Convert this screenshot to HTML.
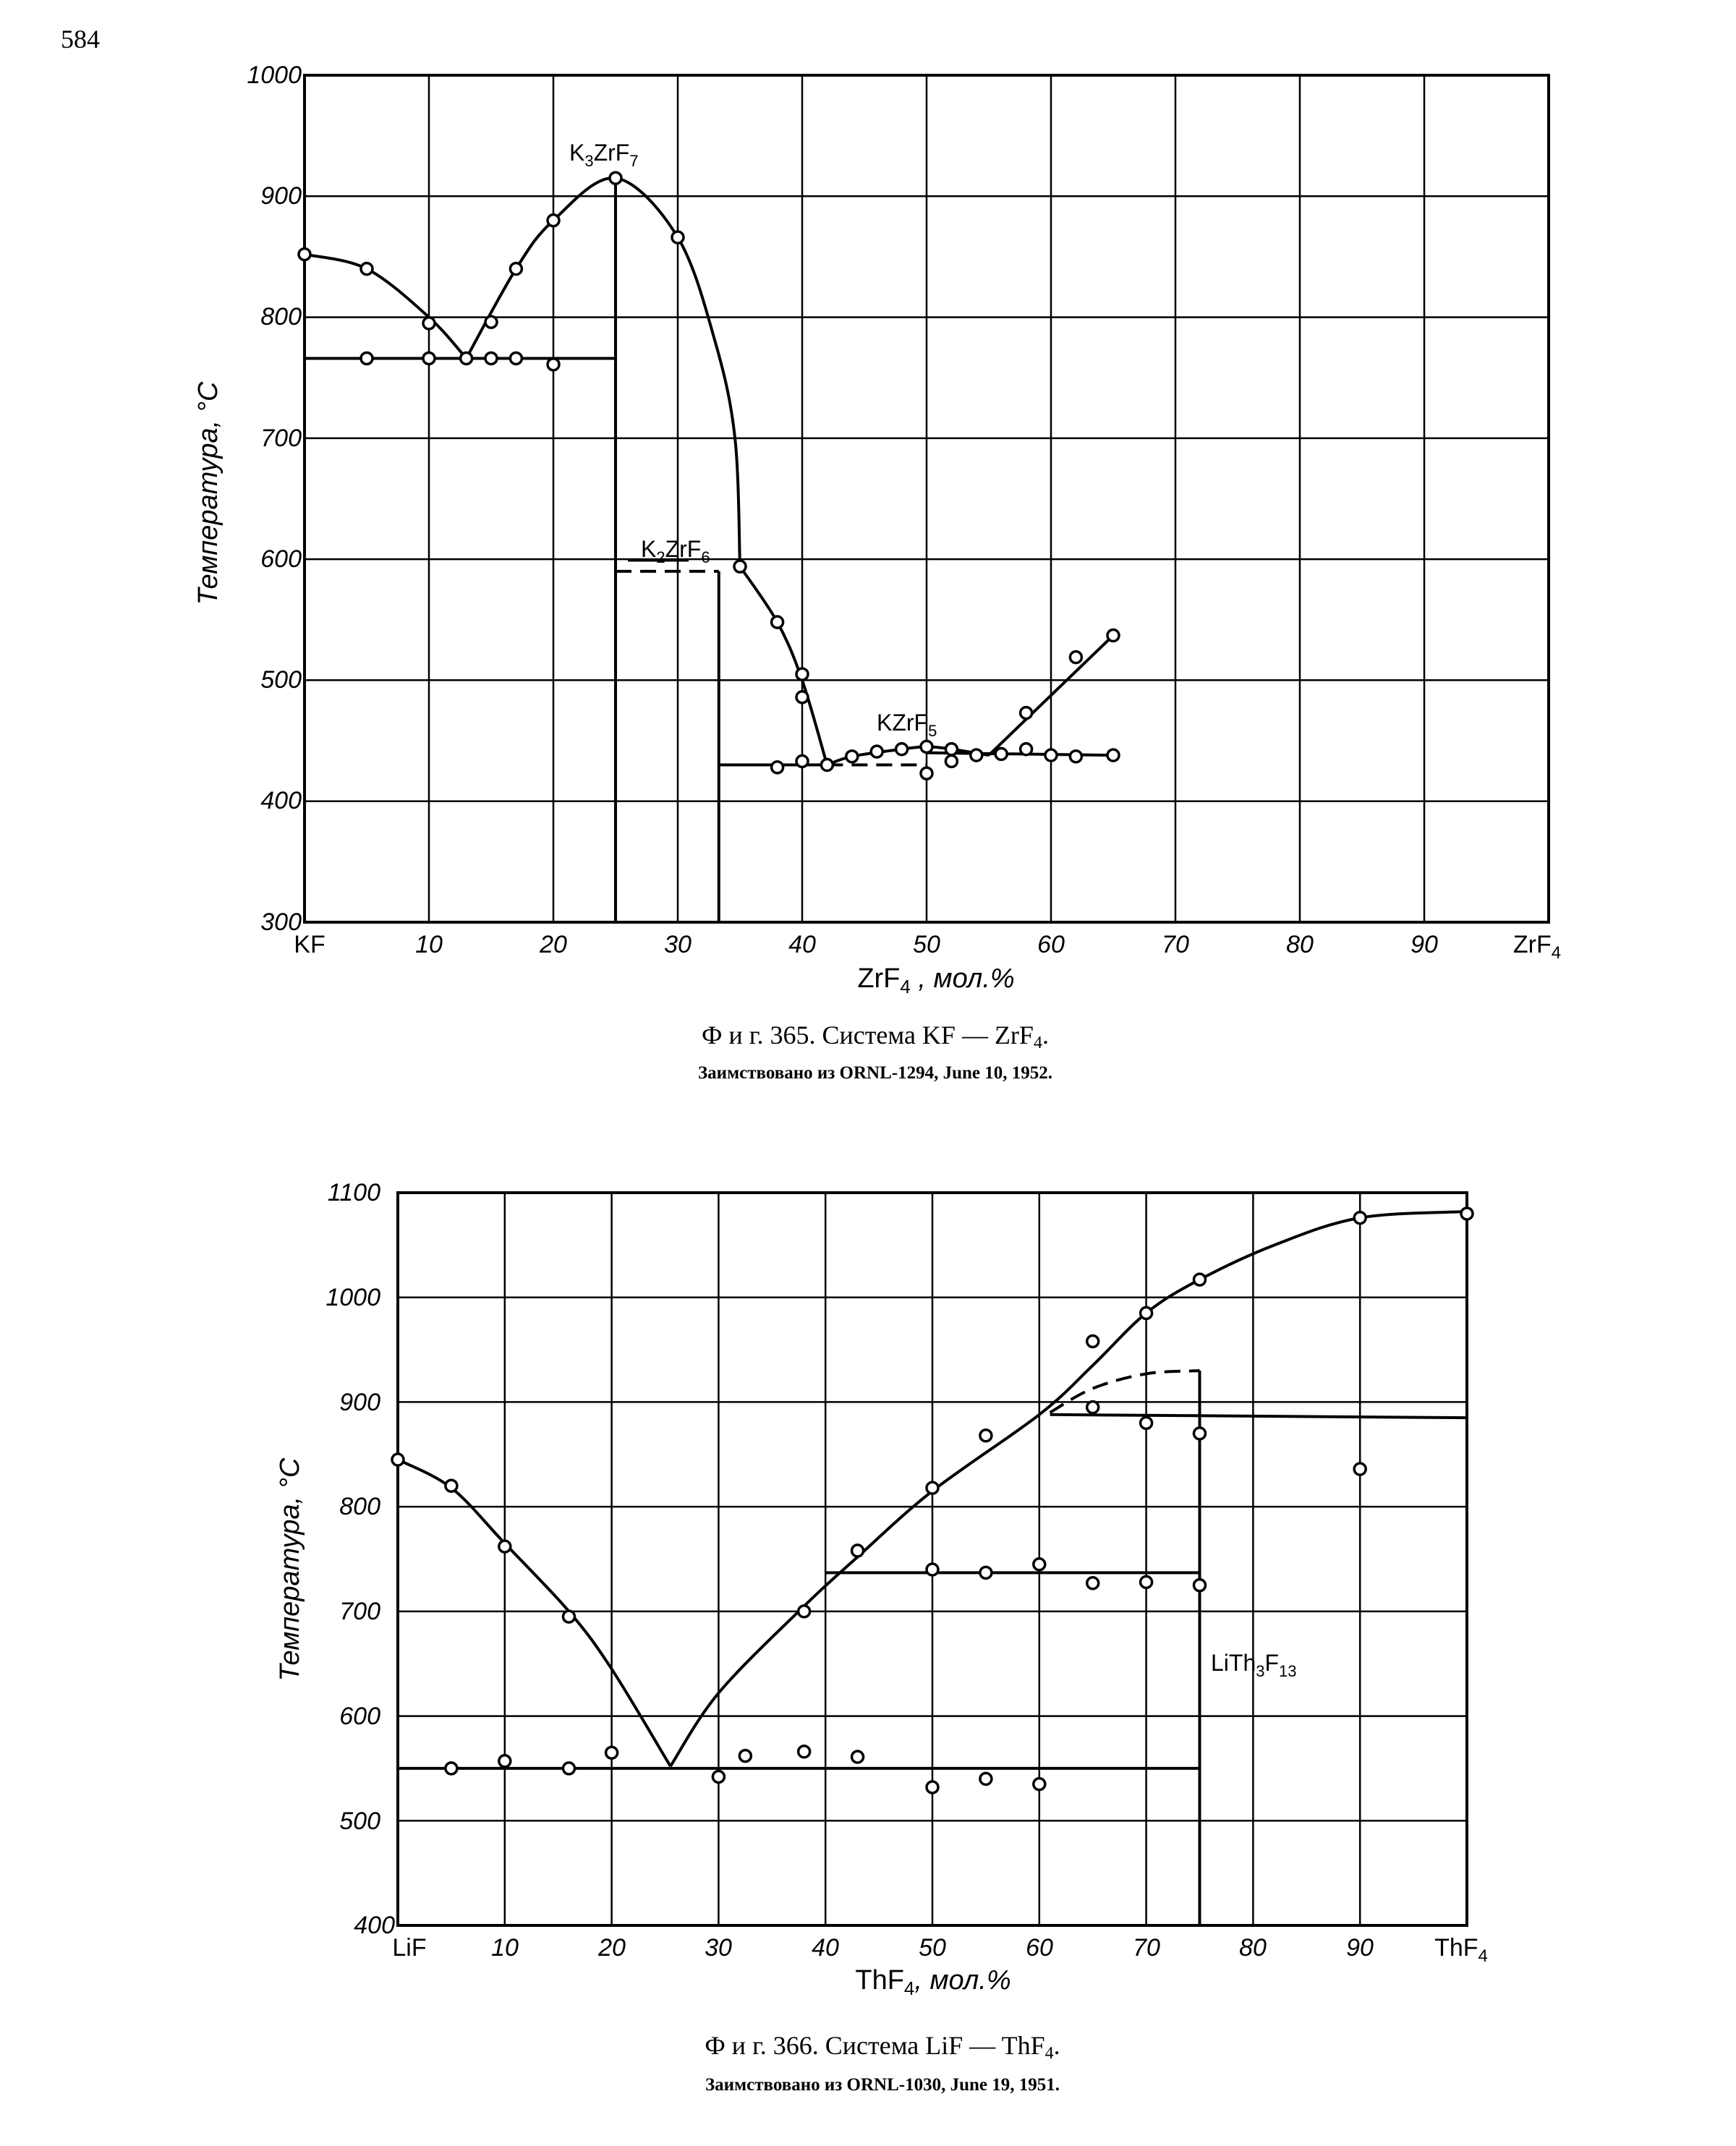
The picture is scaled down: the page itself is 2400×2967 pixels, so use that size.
<!DOCTYPE html>
<html><head><meta charset="utf-8"><style>
html,body{margin:0;padding:0;background:#fff}
svg{display:block}
text{font-family:"Liberation Sans",sans-serif;fill:#000}
.it{font-style:italic}
.cap{font-family:"Liberation Serif",serif}
</style></head><body>
<svg id="s" width="2400" height="2967" xmlns="http://www.w3.org/2000/svg">
<rect width="2400" height="2967" fill="#fff"/>
<text x="84" y="66" class="cap" font-size="36">584</text>
<g id="g1"></g><g id="g2"></g>
<!-- chart 1 labels -->
<g class="it" font-size="34" text-anchor="end">
<text x="417" y="115">1000</text><text x="417" y="282">900</text><text x="417" y="449">800</text>
<text x="417" y="617">700</text><text x="417" y="784">600</text><text x="417" y="951">500</text>
<text x="417" y="1118">400</text><text x="417" y="1286">300</text>
</g>
<g font-size="34" text-anchor="middle" class="it">
<text x="428" y="1317" font-style="normal">KF</text>
<text x="593" y="1317">10</text><text x="765" y="1317">20</text><text x="937" y="1317">30</text>
<text x="1109" y="1317">40</text><text x="1281" y="1317">50</text><text x="1453" y="1317">60</text>
<text x="1625" y="1317">70</text><text x="1797" y="1317">80</text><text x="1969" y="1317">90</text>
<text x="2125" y="1317" font-style="normal">ZrF<tspan font-size="24" dy="8">4</tspan></text>
</g>
<text x="1294" y="1365" font-size="38" text-anchor="middle">ZrF<tspan font-size="26" dy="8">4</tspan><tspan dy="-8" class="it"> , мол.%</tspan></text>
<text transform="translate(300,682) rotate(-90)" font-size="38" class="it" text-anchor="middle">Температура, °С</text>
<text x="787" y="222" font-size="32">K<tspan font-size="22" dy="8">3</tspan><tspan dy="-8">ZrF</tspan><tspan font-size="22" dy="8">7</tspan></text>
<text x="886" y="770" font-size="32">K<tspan font-size="22" dy="8">2</tspan><tspan dy="-8">ZrF</tspan><tspan font-size="22" dy="8">6</tspan></text>
<line x1="868" y1="775" x2="952" y2="775" stroke="#000" stroke-width="3"/>
<text x="1212" y="1010" font-size="32">KZrF<tspan font-size="22" dy="8">5</tspan></text>
<text x="1210" y="1443" class="cap" font-size="36" text-anchor="middle">Ф и г. 365. Система KF — ZrF<tspan font-size="24" dy="6">4</tspan><tspan dy="-6">.</tspan></text>
<text x="1210" y="1491" class="cap" font-size="25" font-weight="bold" text-anchor="middle">Заимствовано из ORNL-1294, June 10, 1952.</text>
<!-- chart 2 labels -->
<g class="it" font-size="34" text-anchor="end">
<text x="526" y="1660">1100</text><text x="526" y="1805">1000</text><text x="526" y="1950">900</text>
<text x="526" y="2094">800</text><text x="526" y="2239">700</text><text x="526" y="2384">600</text>
<text x="526" y="2529">500</text><text x="546" y="2673">400</text>
</g>
<g font-size="34" text-anchor="middle" class="it">
<text x="566" y="2704" font-style="normal">LiF</text>
<text x="698" y="2704">10</text><text x="846" y="2704">20</text><text x="993" y="2704">30</text>
<text x="1141" y="2704">40</text><text x="1289" y="2704">50</text><text x="1437" y="2704">60</text>
<text x="1585" y="2704">70</text><text x="1732" y="2704">80</text><text x="1880" y="2704">90</text>
<text x="2020" y="2704" font-style="normal">ThF<tspan font-size="24" dy="8">4</tspan></text>
</g>
<text x="1290" y="2750" font-size="38" text-anchor="middle">ThF<tspan font-size="26" dy="8">4</tspan><tspan dy="-8" class="it">, мол.%</tspan></text>
<text transform="translate(413,2170) rotate(-90)" font-size="38" class="it" text-anchor="middle">Температура, °С</text>
<text x="1674" y="2310" font-size="32">LiTh<tspan font-size="22" dy="8">3</tspan><tspan dy="-8">F</tspan><tspan font-size="22" dy="8">13</tspan></text>
<text x="1220" y="2840" class="cap" font-size="36" text-anchor="middle">Ф и г. 366. Система LiF — ThF<tspan font-size="24" dy="6">4</tspan><tspan dy="-6">.</tspan></text>
<text x="1220" y="2890" class="cap" font-size="25" font-weight="bold" text-anchor="middle">Заимствовано из ORNL-1030, June 19, 1951.</text>
</svg>
<script>
var NS="http://www.w3.org/2000/svg";
function el(g,t,a){var e=document.createElementNS(NS,t);for(var k in a)e.setAttribute(k,a[k]);g.appendChild(e);return e;}
function chart(gid,L,R,T,B,x0,x1,y0,y1,data){
 var g=document.getElementById(gid);
 var X=function(c){return L+(c-x0)/(x1-x0)*(R-L)};
 var Y=function(t){return B-(t-y0)/(y1-y0)*(B-T)};
 for(var c=x0;c<=x1;c+=10)el(g,"line",{x1:X(c),y1:T,x2:X(c),y2:B,stroke:"#000","stroke-width":2.5});
 for(var t=y0;t<=y1;t+=100)el(g,"line",{x1:L,y1:Y(t),x2:R,y2:Y(t),stroke:"#000","stroke-width":2.5});
 el(g,"rect",{x:L,y:T,width:R-L,height:B-T,fill:"none",stroke:"#000","stroke-width":4});
 data.curves.forEach(function(cv){
  var p=cv.p.map(function(q){return [X(q[0]),Y(q[1])]});
  var d="M"+p[0][0]+","+p[0][1];
  if(cv.s){for(var i=0;i<p.length-1;i++){var a=p[i-1]||p[i],b=p[i],c2=p[i+1],e=p[i+2]||c2;
   d+=" C"+(b[0]+(c2[0]-a[0])/6)+","+(b[1]+(c2[1]-a[1])/6)+" "+(c2[0]-(e[0]-b[0])/6)+","+(c2[1]-(e[1]-b[1])/6)+" "+c2[0]+","+c2[1];}}
  else for(var i=1;i<p.length;i++)d+=" L"+p[i][0]+","+p[i][1];
  var a={d:d,fill:"none",stroke:"#000","stroke-width":4};if(cv.dash)a["stroke-dasharray"]="22,12";
  el(g,"path",a);});
 data.pts.forEach(function(q){el(g,"circle",{cx:X(q[0]),cy:Y(q[1]),r:8,fill:"#fff",stroke:"#000","stroke-width":3.5});});
}
chart("g1",421,2141,104,1275,0,100,300,1000,{
 curves:[
  {s:1,p:[[0,852],[5,840],[10,800],[13,766]]},
  {s:1,p:[[13,766],[17,840],[20,880],[25,915],[30,866],[33,780],[34.6,700],[35,594]]},
  {s:1,p:[[35,594],[38,548],[40,500],[42,430]]},
  {s:1,p:[[42,430],[44,437],[48,443],[50,445],[52,443],[55,438]]},
  {p:[[55,438],[65,537]]},
  {p:[[0,766],[25,766]]},{p:[[25,915],[25,300]]},
  {dash:1,p:[[25,590],[33.3,590]]},{p:[[33.3,590],[33.3,300]]},
  {p:[[33.3,430],[42,430]]},{dash:1,p:[[42,430],[50,430]]},
  {p:[[50,440],[65,438]]}],
 pts:[[0,852],[5,840],[10,795],[13,766],[15,796],[17,840],[20,880],[25,915],[30,866],[35,594],[38,548],[40,505],[40,486],[42,430],[44,437],[46,441],[48,443],[50,445],[52,443],[54,438],[56,439],[58,443],[60,438],[62,437],[65,438],[58,473],[62,519],[65,537],[5,766],[10,766],[15,766],[17,766],[20,761],[38,428],[40,433],[50,423],[52,433]]});
chart("g2",550,2028,1649,2662,0,100,400,1100,{
 curves:[
  {s:1,p:[[0,845],[5,818],[10,765],[16,700],[20,645],[25.5,552]]},
  {s:1,p:[[25.5,552],[30,622],[38,705],[43,752],[50,815],[60,888],[65,935],[70,985],[75,1017],[82,1050],[90,1076],[100,1082]]},
  {dash:1,s:1,p:[[61,890],[65,913],[70,927],[75,930]]},
  {p:[[75,930],[75,400]]},
  {p:[[61,888],[100,885]]},{p:[[40,737],[75,737]]},{p:[[0,550],[75,550]]}],
 pts:[[0,845],[5,820],[10,762],[16,695],[5,550],[10,557],[16,550],[20,565],[30,542],[32.5,562],[38,566],[43,561],[38,700],[43,758],[50,818],[55,868],[50,740],[55,737],[60,745],[60,535],[55,540],[50,532],[65,958],[65,895],[70,985],[70,880],[75,1017],[75,870],[65,727],[70,728],[75,725],[90,1076],[90,836],[100,1080]]});
</script>
</body></html>
